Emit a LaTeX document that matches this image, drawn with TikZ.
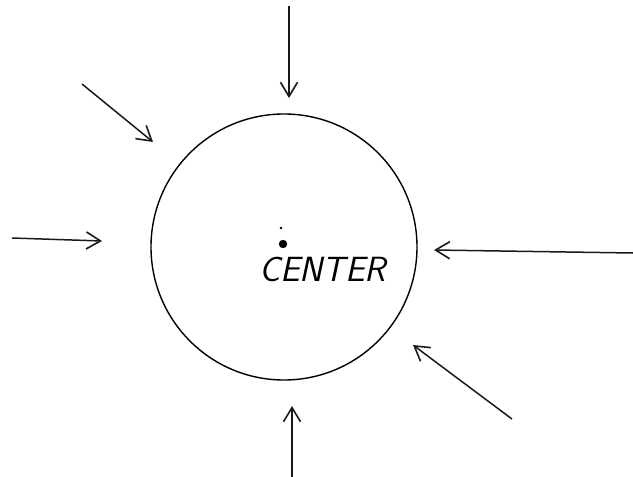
\documentclass[tikz,border=0pt]{standalone}
\usepackage{amsmath,amssymb}
\usepackage{tikz}
\usetikzlibrary{arrows.meta,positioning}

\begin{document}
\begin{tikzpicture}[
      x=1pt, y=-1pt,
      ball/.style={draw, circle, line width=1.4pt, minimum size=266pt, inner sep=0pt},
      push/.style={-{Straight Barb[length=5mm, width=6mm, line width=1.6pt]}, line width=1.5pt, draw=black!90},
      label/.style={font=\sffamily\itshape\fontsize{35}{35}\selectfont, inner sep=0pt},
      node distance=4.5mm]
    \useasboundingbox (0,0) rectangle (633,477);
    \node[ball] (ball) at (284,247) {};
    \fill (283,244) circle (4.2pt) coordinate (mid);
    \fill (281,228) circle (1.4pt);
    \node[label, below right=4.5mm and -8.5mm of mid] (txt) {CENTER};
    % the pushes from outside
    \coordinate (nS) at (289,6);   \coordinate (nE) at (289,98);
    \coordinate (wS) at (82,84);   \coordinate (wE) at (153,142);
    \coordinate (lS) at (12,238);  \coordinate (lE) at (102,241);
    \coordinate (rS) at (633,253); \coordinate (rE) at (434,250);
    \coordinate (sS) at (512,419); \coordinate (sE) at (413,345);
    \coordinate (bS) at (292,477); \coordinate (bE) at (292,406);
    \draw[push] (nS) -- (nE);
    \draw[push] (wS) -- (wE);
    \draw[push] (lS) -- (lE);
    \draw[push] (rS) -- (rE);
    \draw[push] (sS) -- (sE);
    \draw[push] (bS) -- (bE);
  \end{tikzpicture}
\end{document}
